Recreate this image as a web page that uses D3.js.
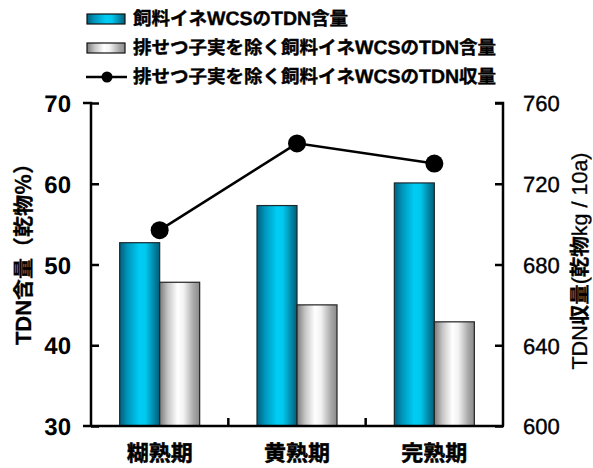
<!DOCTYPE html>
<html>
<head>
<meta charset="utf-8">
<script src="https://cdn.jsdelivr.net/npm/d3@7"></script>
<style>
  html, body { margin: 0; padding: 0; background: #fff; }
  svg { display: block; }
  text { text-rendering: geometricPrecision; -webkit-font-smoothing: grayscale; }
  .jp { font-family: "Noto Sans CJK JP", sans-serif; font-weight: 700; }
  .num { font-family: "Liberation Sans", Arial, sans-serif; }
</style>
</head>
<body>
<svg id="chart" width="593" height="468"></svg>
<script>
// Harvest stages
const stages = ["糊熟期", "黄熟期", "完熟期"];
// TDN content of whole-crop rice silage (% of dry matter)
const tdnWhole = [52.7, 57.3, 60.1];
// TDN content excluding shed grain (% of dry matter)
const tdnNoShed = [47.8, 45.0, 42.9];
// TDN yield excluding shed grain (kg DM / 10a)
const tdnYield = [697, 740, 730];

const leftTicks = [30, 40, 50, 60, 70];
const rightTicks = [600, 640, 680, 720, 760];

const legendLabels = [
  "飼料イネWCSのTDN含量",
  "排せつ子実を除く飼料イネWCSのTDN含量",
  "排せつ子実を除く飼料イネWCSのTDN収量"
];
const leftTitle = "TDN含量（乾物％）";
const rightTitle = "TDN収量(乾物kg / 10a)";

const svg = d3.select("#chart");
const plot = { left: 91, right: 503, top: 103, bottom: 426 };

// Writes a mixed Japanese / Latin string: Latin runs get their own font and size.
function mixedText(sel, str, o) {
  const runs = str.match(/[\x20-\x7e]+|[^\x20-\x7e]+/g);
  sel.selectAll("tspan").data(runs).join("tspan")
    .attr("font-family", d => /^[\x20-\x7e]+$/.test(d) ? "'Liberation Sans', Arial, sans-serif" : "'Noto Sans CJK JP', sans-serif")
    .attr("font-size", d => /^[\x20-\x7e]+$/.test(d) ? o.latinSize : o.cjkSize)
    .attr("font-weight", d => /^[\x20-\x7e]+$/.test(d) ? o.latinWeight : 700)
    .style("white-space", "pre")
    .text(d => d);
}

const defs = svg.append("defs");
function hGrad(id, stops) {
  const g = defs.append("linearGradient").attr("id", id)
    .attr("x1", "0%").attr("x2", "100%").attr("y1", "0%").attr("y2", "0%");
  stops.forEach(([o, c]) => g.append("stop").attr("offset", o).attr("stop-color", c));
}
hGrad("gBlue", [["0%", "#00607e"], ["20%", "#0096bc"], ["50%", "#00cdf4"], ["65%", "#00c8ee"], ["85%", "#0089aa"], ["100%", "#005e78"]]);
hGrad("gGrey", [["0%", "#7a7a7a"], ["20%", "#c4c4c4"], ["45%", "#ffffff"], ["60%", "#f2f2f2"], ["85%", "#a8a8a8"], ["100%", "#8a8a8a"]]);

const x0 = d3.scaleBand().domain(stages).range([plot.left, plot.right]).paddingInner(0).paddingOuter(0);
const x1 = d3.scaleBand().domain(["whole", "noshed"]).range([0, 80]);
const yL = d3.scaleLinear().domain([30, 70]).range([plot.bottom, plot.top]);
const yR = d3.scaleLinear().domain([600, 760]).range([plot.bottom, plot.top]);

// Bars
const groups = svg.append("g").selectAll("g").data(stages).join("g")
  .attr("transform", d => `translate(${x0(d) + (x0.bandwidth() - 80) / 2},0)`);
groups.append("rect")
  .attr("x", x1("whole")).attr("width", x1.bandwidth())
  .attr("y", (d, i) => yL(tdnWhole[i])).attr("height", (d, i) => yL(30) - yL(tdnWhole[i]))
  .attr("fill", "url(#gBlue)").attr("stroke", "#1a2a30").attr("stroke-width", 1.2);
groups.append("rect")
  .attr("x", x1("noshed")).attr("width", x1.bandwidth())
  .attr("y", (d, i) => yL(tdnNoShed[i])).attr("height", (d, i) => yL(30) - yL(tdnNoShed[i]))
  .attr("fill", "url(#gGrey)").attr("stroke", "#222").attr("stroke-width", 1.2);

// Left axis
const axL = svg.append("g").attr("transform", `translate(${plot.left},0)`)
  .call(d3.axisLeft(yL).tickValues(leftTicks).tickSize(-8).tickPadding(20).tickFormat(d3.format("d")));
axL.select(".domain").attr("stroke", "#000").attr("stroke-width", 2.5).attr("d", `M-8,${plot.top}H0V${plot.bottom}`);
axL.selectAll(".tick line").attr("stroke", "#000").attr("stroke-width", 2.5);
axL.selectAll(".tick text").attr("class", "num").attr("font-size", 24).attr("font-weight", 700).attr("fill", "#000").attr("dy", "0.36em");
axL.selectAll(".tick").filter(d => d === 70).select("line").attr("x2", 8);

// Right axis
const axR = svg.append("g").attr("transform", `translate(${plot.right},0)`)
  .call(d3.axisRight(yR).tickValues(rightTicks).tickSize(-8).tickPadding(20).tickFormat(d3.format("d")));
axR.select(".domain").attr("stroke", "#000").attr("stroke-width", 2.5).attr("d", `M-8,${plot.top}H0V${plot.bottom}`);
axR.selectAll(".tick line").attr("stroke", "#000").attr("stroke-width", 2.5);
axR.selectAll(".tick text").attr("class", "num").attr("font-size", 22).attr("fill", "#000").attr("dy", "0.36em")
  .attr("stroke", "#000").attr("stroke-width", 0.4);

// Bottom axis with category separators
const axB = svg.append("g").attr("transform", `translate(0,${plot.bottom})`);
axB.append("line").attr("x1", plot.left - 8).attr("x2", plot.right + 1).attr("stroke", "#000").attr("stroke-width", 2.5);
axB.selectAll("line.sep").data(stages.slice(1)).join("line").attr("class", "sep")
  .attr("x1", d => x0(d)).attr("x2", d => x0(d)).attr("y1", 0).attr("y2", -8)
  .attr("stroke", "#000").attr("stroke-width", 2.5);
axB.selectAll("text").data(stages).join("text").attr("class", "jp")
  .attr("x", d => x0(d) + x0.bandwidth() / 2).attr("y", 35)
  .attr("text-anchor", "middle").attr("font-size", 22).attr("fill", "#000")
  .attr("stroke", "#000").attr("stroke-width", 0.5).text(d => d);

// Yield line with markers
const lineGen = d3.line().x((d, i) => x0(stages[i]) + x0.bandwidth() / 2).y(d => yR(d));
svg.append("path").datum(tdnYield).attr("d", lineGen)
  .attr("fill", "none").attr("stroke", "#000").attr("stroke-width", 2.5);
svg.append("g").selectAll("circle").data(tdnYield).join("circle")
  .attr("cx", (d, i) => x0(stages[i]) + x0.bandwidth() / 2).attr("cy", d => yR(d)).attr("r", 9).attr("fill", "#000");

// Axis titles
svg.append("text")
  .attr("transform", `translate(30.5,249) rotate(-90)`)
  .attr("text-anchor", "middle").attr("fill", "#000").attr("stroke", "#000").attr("stroke-width", 0.3)
  .call(mixedText, leftTitle, { cjkSize: 21, latinSize: 22, latinWeight: 700 });
svg.append("text")
  .attr("transform", `translate(587,261) rotate(-90)`)
  .attr("text-anchor", "middle").attr("fill", "#000").attr("stroke", "#000").attr("stroke-width", 0.3)
  .call(mixedText, rightTitle, { cjkSize: 20.5, latinSize: 21.5, latinWeight: 400 });

// Legend
const legend = svg.append("g");
const rowY = [19, 48, 77];
legend.append("rect").attr("x", 87).attr("y", rowY[0] - 5).attr("width", 38).attr("height", 10)
  .attr("fill", "url(#gBlue)").attr("stroke", "#111").attr("stroke-width", 1.2);
legend.append("rect").attr("x", 87).attr("y", rowY[1] - 5).attr("width", 38).attr("height", 10)
  .attr("fill", "url(#gGrey)").attr("stroke", "#111").attr("stroke-width", 1.2);
legend.append("line").attr("x1", 86).attr("x2", 127).attr("y1", rowY[2]).attr("y2", rowY[2])
  .attr("stroke", "#000").attr("stroke-width", 2.5);
legend.append("circle").attr("cx", 107).attr("cy", rowY[2]).attr("r", 5.5).attr("fill", "#000");
legend.selectAll("text").data(legendLabels).join("text")
  .attr("x", 133).attr("y", (d, i) => rowY[i]).attr("dy", "0.36em")
  .attr("fill", "#000").attr("stroke", "#000").attr("stroke-width", 0.4)
  .each(function (d) { d3.select(this).call(mixedText, d, { cjkSize: 18.5, latinSize: 19.5, latinWeight: 700 }); });
</script>
</body>
</html>
